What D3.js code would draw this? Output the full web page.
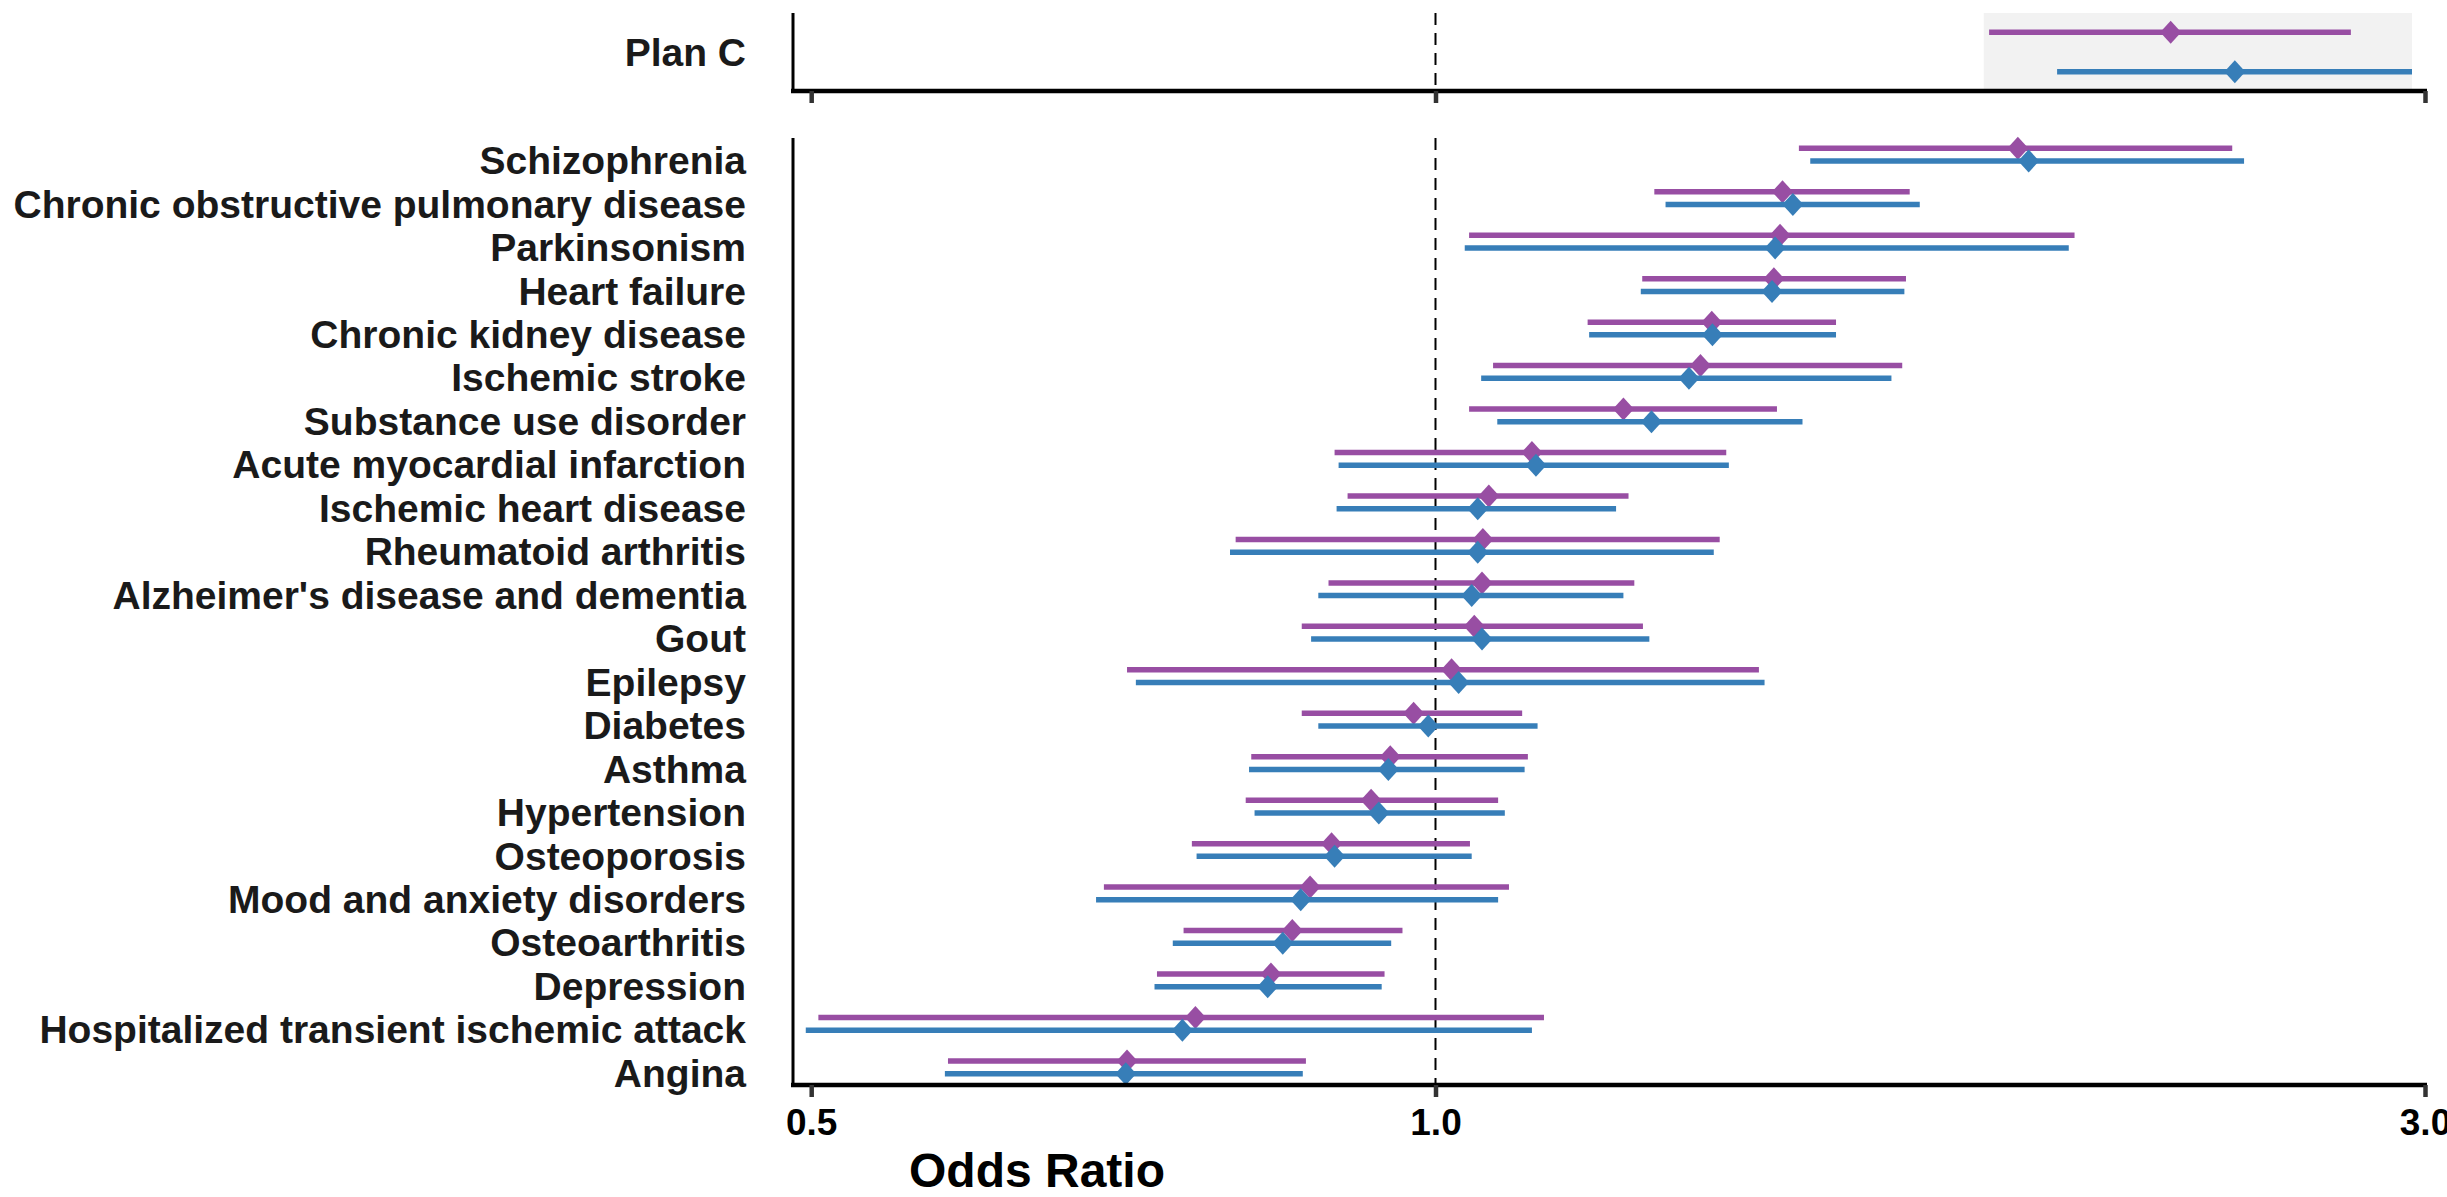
<!DOCTYPE html>
<html>
<head>
<meta charset="utf-8">
<script src="https://cdn.jsdelivr.net/npm/d3@7"></script>
<style>
html,body{margin:0;padding:0;background:#fff;}
svg{display:block;}
text{font-family:"Liberation Sans",Arial,sans-serif;font-weight:bold;}
</style>
</head>
<body>
<svg id="chart" width="2447" height="1197"></svg>
<script>
// ---- Data ----
const topCategories = ["Plan C"];
const topPurpleOR = [2.262], topPurpleLo = [1.849], topPurpleHi = [2.763];
const topBlueOR = [2.429], topBlueLo = [1.994], topBlueHi = [2.957];
const topBand = [1.838, 2.957];

const categories = [
  "Schizophrenia",
  "Chronic obstructive pulmonary disease",
  "Parkinsonism",
  "Heart failure",
  "Chronic kidney disease",
  "Ischemic stroke",
  "Substance use disorder",
  "Acute myocardial infarction",
  "Ischemic heart disease",
  "Rheumatoid arthritis",
  "Alzheimer's disease and dementia",
  "Gout",
  "Epilepsy",
  "Diabetes",
  "Asthma",
  "Hypertension",
  "Osteoporosis",
  "Mood and anxiety disorders",
  "Osteoarthritis",
  "Depression",
  "Hospitalized transient ischemic attack",
  "Angina"
];
const purpleOR = [1.909,1.470,1.466,1.456,1.359,1.342,1.232,1.113,1.061,1.054,1.053,1.044,1.018,0.976,0.951,0.931,0.891,0.870,0.853,0.833,0.766,0.710];
const purpleLo = [1.497,1.275,1.038,1.258,1.184,1.066,1.038,0.894,0.907,0.801,0.888,0.862,0.710,0.862,0.815,0.810,0.763,0.692,0.756,0.734,0.504,0.582];
const purpleHi = [2.422,1.693,2.033,1.686,1.560,1.679,1.461,1.381,1.239,1.371,1.247,1.259,1.432,1.101,1.108,1.072,1.039,1.085,0.964,0.945,1.128,0.866];
const blueOR   = [1.932,1.487,1.458,1.453,1.360,1.325,1.271,1.118,1.048,1.048,1.041,1.053,1.026,0.992,0.949,0.939,0.894,0.861,0.844,0.830,0.755,0.709];
const blueLo   = [1.516,1.291,1.033,1.256,1.186,1.052,1.071,0.898,0.896,0.796,0.878,0.871,0.717,0.878,0.813,0.818,0.767,0.686,0.747,0.732,0.497,0.580];
const blueHi   = [2.454,1.712,2.020,1.683,1.560,1.659,1.503,1.385,1.222,1.362,1.232,1.268,1.441,1.120,1.104,1.080,1.041,1.072,0.952,0.942,1.113,0.863];

const tickValues = [0.5, 1.0, 3.0];
const tickLabels = ["0.5", "1.0", "3.0"];
const xTitle = "Odds Ratio";

// ---- Drawing ----
const svg = d3.select("#chart");
const PURPLE = "#984ea3", BLUE = "#377eb8", TEXT = "#1a1a1a";

const x = d3.scaleLog().domain([0.49, 3.0]).range([793, 2425]);

const yTop = d3.scalePoint().domain(topCategories).range([52, 52]);
const yLow = d3.scalePoint().domain(categories).range([154.65, 1067.3]);

function diamond(cx, cy, color) {
  const hw = 10.5, hh = 11.5;
  return svg.append("path")
    .attr("d", `M${cx},${cy-hh}L${cx+hw},${cy}L${cx},${cy+hh}L${cx-hw},${cy}Z`)
    .attr("fill", color);
}

function drawPanel(cats, yScale, off, pOR, pLo, pHi, bOR, bLo, bHi, top, bottom, labelDy) {
  // dashed reference line
  svg.append("line")
    .attr("x1", x(1)).attr("x2", x(1))
    .attr("y1", top).attr("y2", bottom)
    .attr("stroke", "#000").attr("stroke-width", 2)
    .attr("stroke-dasharray", "12,8");

  cats.forEach((c, i) => {
    const yc = yScale(c);
    const yp = yc - off, yb = yc + off;
    svg.append("line").attr("x1", x(pLo[i])).attr("x2", x(pHi[i]))
      .attr("y1", yp).attr("y2", yp).attr("stroke", PURPLE).attr("stroke-width", 5.5);
    diamond(x(pOR[i]), yp, PURPLE);
    svg.append("line").attr("x1", x(bLo[i])).attr("x2", x(bHi[i]))
      .attr("y1", yb).attr("y2", yb).attr("stroke", BLUE).attr("stroke-width", 5.5);
    diamond(x(bOR[i]), yb, BLUE);
    svg.append("text").attr("x", 746).attr("y", yc + labelDy)
      .attr("text-anchor", "end").attr("font-size", 39).attr("fill", TEXT)
      .text(c);
  });

  // y axis line
  svg.append("line").attr("x1", 793).attr("x2", 793)
    .attr("y1", top).attr("y2", bottom + 2)
    .attr("stroke", "#000").attr("stroke-width", 3);

  // x axis
  const axis = d3.axisBottom(x).tickValues(tickValues)
    .tickFormat((d, i) => tickLabels[i]).tickSizeOuter(0).tickSize(12).tickPadding(6);
  const g = svg.append("g").attr("transform", `translate(0,${bottom})`).call(axis);
  g.select(".domain").attr("d", `M791,0H2427`).attr("stroke", "#000").attr("stroke-width", 4.5);
  g.selectAll(".tick line").attr("stroke", "#333").attr("stroke-width", 4.5);
  return g;
}

// Top panel grey band
svg.append("rect")
  .attr("x", x(topBand[0])).attr("width", x(topBand[1]) - x(topBand[0]))
  .attr("y", 13).attr("height", 76).attr("fill", "#f2f2f2");

const gTop = drawPanel(topCategories, yTop, 19.85, topPurpleOR, topPurpleLo, topPurpleHi,
  topBlueOR, topBlueLo, topBlueHi, 13, 91, 14);
gTop.selectAll(".tick text").remove();

const gLow = drawPanel(categories, yLow, 6.35, purpleOR, purpleLo, purpleHi,
  blueOR, blueLo, blueHi, 138, 1085, 19.5);
gLow.selectAll(".tick text")
  .attr("font-size", 37).attr("fill", "#000")
  .attr("font-family", "'Liberation Sans', Arial, sans-serif").attr("font-weight", "bold")
  .attr("dy", null).attr("y", 50);

svg.append("text").attr("x", 1037).attr("y", 1187)
  .attr("text-anchor", "middle").attr("font-size", 48).attr("fill", "#000")
  .text(xTitle);
</script>
</body>
</html>
